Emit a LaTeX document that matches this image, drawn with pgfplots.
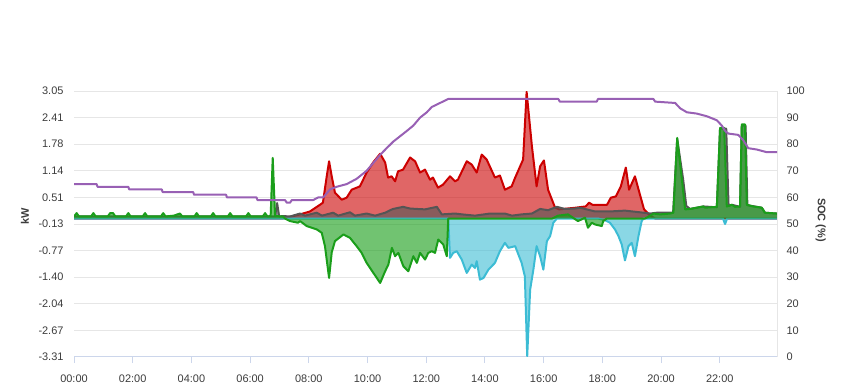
\documentclass[border=0pt]{standalone}
\usepackage{fontspec}
\setmainfont{Liberation Sans}
\usepackage{pgfplots}
\usepackage{pgfplotstable}
\pgfplotsset{compat=1.18}
\definecolor{cred}{RGB}{204,0,0}
\definecolor{cgray}{RGB}{85,85,85}
\definecolor{cgreen}{RGB}{26,158,26}
\definecolor{ccyan}{RGB}{60,188,212}
\definecolor{cpurple}{RGB}{152,96,180}
\definecolor{cgrid}{RGB}{230,230,230}
\definecolor{caxis}{RGB}{204,214,235}
\definecolor{ctext}{RGB}{60,60,60}

% PV (kW)
\pgfplotstableread{
t v
0 0
7.12 0
7.70 0.10
8.04 0.17
8.38 0.33
8.48 0.38
8.61 1.01
8.69 1.37
8.78 1.01
8.89 0.62
9.12 0.45
9.29 0.50
9.46 0.69
9.74 0.77
9.97 1.10
10.19 1.34
10.43 1.55
10.60 1.34
10.70 0.98
10.82 1.01
10.94 0.89
11.04 1.13
11.21 1.17
11.45 1.46
11.62 1.37
11.79 1.10
11.96 1.17
12.13 0.93
12.23 0.98
12.40 0.74
12.57 0.81
12.81 1.01
12.98 0.89
13.08 0.93
13.38 1.37
13.55 1.29
13.72 1.10
13.89 1.53
14.06 1.41
14.34 0.98
14.51 1.03
14.68 0.69
14.91 0.77
15.03 0.98
15.30 1.41
15.42 3.03
15.60 1.73
15.76 0.77
15.88 1.25
16.01 1.39
16.15 0.69
16.39 0.26
16.53 0.22
17.09 0.26
17.43 0.29
17.55 0.38
17.66 0.33
17.89 0.33
18.16 0.33
18.29 0.50
18.46 0.53
18.63 0.77
18.80 1.22
18.91 0.69
19.11 1.01
19.25 0.65
19.42 0.22
19.63 0.07
19.80 0
23.95 0
}\redtab

% load (kW)
\pgfplotstableread{
t v
0 0.05
6.85 0.05
6.92 0.37
6.99 0.05
7.12 0.06
7.36 0.05
7.70 0.12
7.87 0.07
8.27 0.14
8.45 0.07
8.83 0.14
9.00 0.07
9.40 0.15
9.57 0.07
9.97 0.12
10.26 0.07
10.60 0.14
10.77 0.20
10.87 0.23
11.21 0.28
11.45 0.24
11.68 0.23
11.96 0.22
12.36 0.28
12.53 0.10
12.98 0.12
13.22 0.10
13.66 0.07
14.17 0.12
14.68 0.12
14.92 0.07
15.25 0.10
15.60 0.12
15.88 0.23
16.15 0.20
16.45 0.28
16.73 0.23
17.07 0.24
17.24 0.26
17.75 0.17
18.26 0.17
18.77 0.19
19.28 0.15
19.63 0.12
19.85 0.14
20.41 0.14
20.55 1.90
20.75 0.95
20.86 0.30
20.99 0.23
21.44 0.29
21.90 0.27
22.01 2.15
22.22 2.15
22.30 0.30
22.41 0.33
22.69 0.28
22.75 2.22
22.88 2.22
22.94 0.32
23.43 0.26
23.54 0.14
23.95 0.12
}\graytab

% battery (kW)
\pgfplotstableread{
t v
0 0
12.75 0
12.81 -0.94
12.92 -0.82
13.04 -0.78
13.21 -0.98
13.38 -1.30
13.55 -1.10
13.66 -1.18
13.72 -1.02
13.83 -1.46
13.95 -1.42
14.12 -1.22
14.34 -1.06
14.51 -0.78
14.68 -0.58
14.80 -0.70
15.03 -0.66
15.25 -1.06
15.36 -1.38
15.44 -3.29
15.54 -1.70
15.65 -1.22
15.76 -0.66
15.88 -0.90
15.99 -1.22
16.11 -0.54
16.22 -0.42
16.33 -0.10
16.45 0
17.85 0
18.09 -0.04
18.26 -0.10
18.43 -0.26
18.55 -0.42
18.66 -0.62
18.77 -1.00
18.89 -0.66
19.00 -0.58
19.11 -0.90
19.23 -0.42
19.34 -0.06
19.40 0
22.11 0
22.18 -0.13
22.25 0
23.95 0
}\cyantab

% grid (kW)
\pgfplotstableread{
t v
0 0.05
0.09 0.13
0.17 0.05
0.58 0.05
0.66 0.13
0.74 0.05
1.15 0.05
1.23 0.13
1.33 0.13
1.41 0.05
1.77 0.05
1.85 0.13
1.93 0.05
2.34 0.05
2.42 0.13
2.50 0.05
2.96 0.05
3.04 0.13
3.12 0.05
3.40 0.07
3.61 0.12
3.69 0.05
4.10 0.05
4.18 0.13
4.26 0.05
4.66 0.05
4.74 0.13
4.82 0.05
5.24 0.05
5.32 0.13
5.40 0.05
5.86 0.05
5.94 0.13
6.02 0.05
6.43 0.05
6.51 0.13
6.59 0.05
6.70 0.06
6.77 1.45
6.85 0.06
7.12 0.05
7.19 0
7.36 -0.06
7.63 -0.10
7.70 -0.06
7.93 -0.18
8.27 -0.26
8.44 -0.34
8.55 -0.66
8.69 -1.42
8.78 -0.81
8.89 -0.54
9.18 -0.38
9.40 -0.46
9.63 -0.66
9.80 -0.82
9.97 -1.06
10.20 -1.30
10.43 -1.54
10.60 -1.26
10.71 -1.10
10.83 -0.70
10.94 -0.90
11.05 -0.82
11.22 -1.14
11.39 -1.26
11.56 -0.90
11.68 -1.06
11.79 -0.82
11.96 -0.98
12.07 -0.82
12.19 -0.78
12.30 -0.82
12.41 -0.50
12.58 -0.62
12.70 -0.90
12.75 0
16.29 0
16.49 0.07
16.83 0.10
17.00 0.02
17.17 -0.06
17.41 0.02
17.51 -0.22
17.64 -0.10
17.75 -0.14
17.98 -0.18
18.03 -0.06
18.15 0
19.45 0
19.63 0.07
19.74 0.12
19.97 0.10
20.31 0.12
20.42 0.14
20.55 1.93
20.71 0.93
20.82 0.22
20.99 0.23
21.44 0.29
21.50 0.26
21.90 0.28
22.01 2.17
22.15 2.17
22.24 0.29
22.41 0.33
22.52 0.28
22.69 0.29
22.75 2.25
22.86 2.25
22.92 0.33
23.14 0.29
23.43 0.26
23.54 0.14
23.95 0.12
}\greentab

% SOC (%)
\pgfplotstableread{
t v
0 65
0.77 65
0.80 64
1.85 64
1.88 63
2.99 63
3.02 62
4.06 62
4.09 61
5.18 61
5.21 60
6.22 60
6.25 59
7.19 59
7.25 58
7.36 58
7.42 59
8.15 59
8.32 60
8.49 60
8.72 63
8.95 64
9.29 65
9.63 67
9.97 70
10.20 73
10.43 76
10.65 78.5
10.88 81
11.11 83
11.34 85
11.56 87
11.79 90
12.02 92
12.19 94
12.47 95.5
12.75 97
16.50 97
16.55 96
17.81 96
17.85 97
19.74 97
19.80 96
20.48 95.5
20.65 93.5
20.88 92
21.22 91.5
21.56 90.5
21.90 89
22.07 87
22.18 85
22.29 84
22.63 83.5
22.80 81.5
22.97 78.5
23.26 78
23.60 77
23.95 77
}\soctab

\begin{document}
\begin{tikzpicture}
\path[use as bounding box] (0,0) rectangle (849bp,390bp);
\begin{axis}[
  at={(74bp,33bp)}, anchor=south west,
  scale only axis, width=703bp, height=266bp,
  xmin=0, xmax=23.95, ymin=-3.31, ymax=3.05,
  axis x line*=bottom, axis y line*=left,
  y axis line style={draw=none},
  x axis line style={draw=caxis, line width=1bp},
  xtick={0,2,4,6,8,10,12,14,16,18,20,22},
  xticklabels={00:00,02:00,04:00,06:00,08:00,10:00,12:00,14:00,16:00,18:00,20:00,22:00},
  ytick={-3.31,-2.67,-2.04,-1.40,-0.77,-0.13,0.51,1.14,1.78,2.41,3.05},
  yticklabels={-3.31,-2.67,-2.04,-1.40,-0.77,-0.13,0.51,1.14,1.78,2.41,3.05},
  ymajorgrids, grid style={cgrid, line width=1bp},
  xtick style={draw=caxis, line width=1bp}, ytick style={draw=none},
  tick align=outside, major tick length=6bp,
  ticklabel style={font=\fontsize{11}{13}\selectfont, text=ctext},
  xticklabel style={yshift=-8bp},
  yticklabel style={xshift=-1bp},
  ylabel={kW},
  every axis y label/.style={at={(axis description cs:-0.07,0.53)}, anchor=center, rotate=90, font=\bfseries\fontsize{11}{13}\selectfont, text=ctext},
  no markers,
  every axis plot/.append style={line join=round},
]
\addplot[draw=none, fill=cred, fill opacity=0.6, forget plot] table {\redtab} \closedcycle;
\addplot[cred, line width=2bp] table {\redtab};
\addplot[draw=none, fill=cgray, fill opacity=0.62, forget plot] table {\graytab} \closedcycle;
\addplot[cgray, line width=2bp] table {\graytab};
\addplot[draw=none, fill=ccyan, fill opacity=0.6, forget plot] table {\cyantab} \closedcycle;
\addplot[ccyan, line width=2bp] table {\cyantab};
\addplot[draw=none, fill=cgreen, fill opacity=0.62, forget plot] table {\greentab} \closedcycle;
\addplot[cgreen, line width=2bp] table {\greentab};
\end{axis}
\begin{axis}[
  at={(74bp,33bp)}, anchor=south west,
  scale only axis, width=703bp, height=266bp,
  xmin=0, xmax=23.95, ymin=0, ymax=100,
  axis x line=none, axis y line*=right,
  y axis line style={draw=cgrid, line width=1bp},
  ytick={0,10,20,30,40,50,60,70,80,90,100},
  yticklabels={0,10,20,30,40,50,60,70,80,90,100},
  ytick style={draw=none},
  ticklabel style={font=\fontsize{11}{13}\selectfont, text=ctext},
  yticklabel style={xshift=6bp},
  ylabel={SOC (\%)},
  every axis y label/.style={at={(axis description cs:1.062,0.515)}, anchor=center, rotate=-90, font=\bfseries\fontsize{11}{13}\selectfont, text=ctext},
  no markers,
  every axis plot/.append style={line join=round},
]
\addplot[cpurple, line width=2bp] table {\soctab};
\end{axis}
\end{tikzpicture}
\end{document}
